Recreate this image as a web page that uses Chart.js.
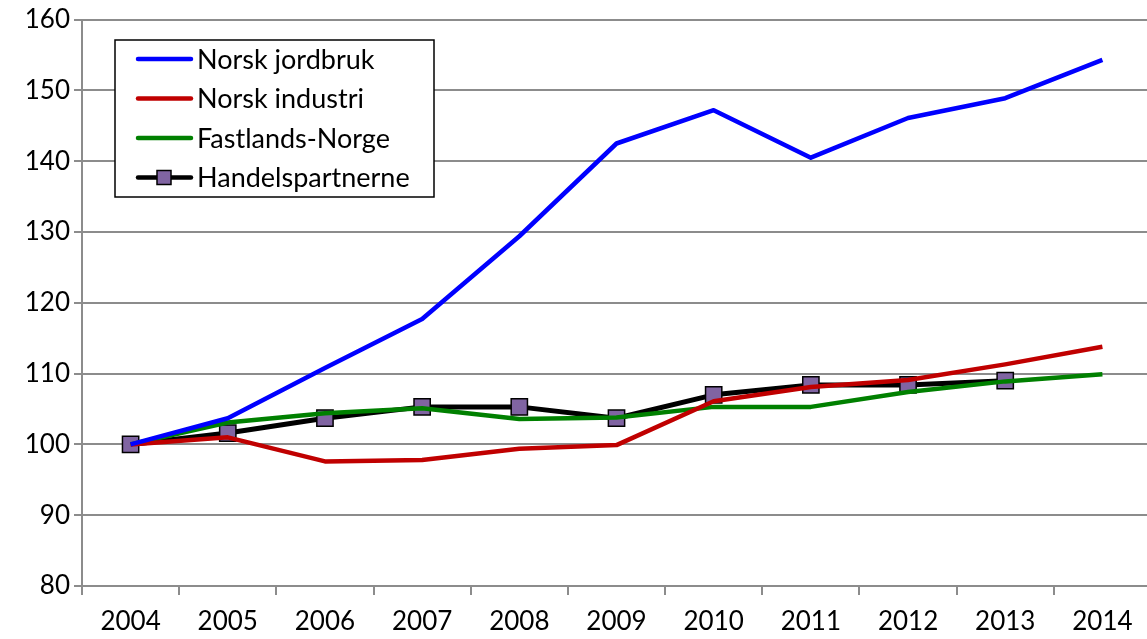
<!DOCTYPE html>
<html>
<head>
<meta charset="utf-8">
<script src="https://cdn.jsdelivr.net/npm/chart.js@4"></script>
<style>
  html, body { margin: 0; padding: 0; background: #fff; overflow: hidden; }
  /* plot runs a little past the right edge of the window, as in the original */
  #wrap { width: 1164px; height: 639px; }
</style>
</head>
<body>
<div id="wrap"><canvas id="chart"></canvas></div>
<script>
// Data (index, 2004 = 100)
const years = ['2004', '2005', '2006', '2007', '2008', '2009', '2010', '2011', '2012', '2013', '2014'];
const jordbruk = [100, 103.7, 110.8, 117.7, 129.4, 142.5, 147.2, 140.5, 146.1, 148.9, 154.3];
const industri = [100, 101.0, 97.6, 97.8, 99.4, 99.9, 106.1, 108.1, 109.1, 111.3, 113.8];
const fastland = [100, 103.1, 104.4, 105.1, 103.6, 103.8, 105.3, 105.3, 107.4, 108.9, 109.9];
const handel = [100, 101.6, 103.7, 105.3, 105.3, 103.7, 107.0, 108.4, 108.4, 109.0, null];
const yTicks = [80, 90, 100, 110, 120, 130, 140, 150, 160];

const FONT = 'Lato, "Open Sans", sans-serif';
const GRID = '#8c8c8c';

// legend drawn inside the plot, like the original
const boxLegend = {
    id: 'boxLegend',
    afterDraw(chart) {
        const ctx = chart.ctx;
        const x0 = 115, y0 = 40, w = 319, h = 157;
        ctx.save();
        ctx.fillStyle = '#fff';
        ctx.fillRect(x0, y0, w, h);
        ctx.strokeStyle = '#000';
        ctx.lineWidth = 1.5;
        ctx.strokeRect(x0, y0, w, h);
        ctx.font = '27px ' + FONT;
        ctx.textBaseline = 'middle';
        chart.data.datasets.forEach((ds, i) => {
            const y = 59 + i * 39.5;
            ctx.strokeStyle = ds.borderColor;
            ctx.lineWidth = 4.5;
            ctx.lineCap = 'round';
            ctx.beginPath();
            ctx.moveTo(138, y);
            ctx.lineTo(191, y);
            ctx.stroke();
            if (ds.pointRadius > 0) {
                ctx.fillStyle = ds.pointBackgroundColor;
                ctx.strokeStyle = '#000';
                ctx.lineWidth = 1.5;
                ctx.fillRect(157, y - 7, 14, 14);
                ctx.strokeRect(157, y - 7, 14, 14);
            }
            ctx.fillStyle = '#000';
            ctx.fillText(ds.label, 197, y + 1);
        });
        ctx.restore();
    }
};

const ctx = document.getElementById('chart').getContext('2d');
new Chart(ctx, {
    type: 'line',
    data: {
        labels: years,
        datasets: [
            { label: 'Norsk jordbruk', data: jordbruk, borderColor: '#0000ff', borderWidth: 4.5, pointRadius: 0 },
            { label: 'Norsk industri', data: industri, borderColor: '#c00000', borderWidth: 4.5, pointRadius: 0 },
            { label: 'Fastlands-Norge', data: fastland, borderColor: '#008000', borderWidth: 4.5, pointRadius: 0 },
            {
                label: 'Handelspartnerne', data: handel, borderColor: '#000000', borderWidth: 5,
                pointStyle: 'rect', pointRadius: 11.5, pointBackgroundColor: '#8064a2',
                pointBorderColor: '#000', pointBorderWidth: 1.5
            }
        ]
    },
    options: {
        responsive: true,
        maintainAspectRatio: false,
        animation: false,
        layout: { padding: { top: 18, right: 0, left: 0, bottom: 0 } },
        plugins: {
            legend: { display: false },
            tooltip: { enabled: false }
        },
        elements: { line: { tension: 0, borderJoinStyle: 'round' } },
        scales: {
            x: {
                offset: true,
                grid: { offset: true, drawOnChartArea: false, color: GRID, lineWidth: 2, tickLength: 9 },
                border: { color: GRID, width: 2 },
                ticks: { color: '#000', font: { family: FONT, size: 26 }, padding: 11, maxRotation: 0 },
                afterFit(scale) { scale.height = 53; }
            },
            y: {
                min: 80,
                max: 160,
                afterBuildTicks(scale) { scale.ticks = yTicks.map(v => ({ value: v })); },
                grid: { color: GRID, lineWidth: 2, tickLength: 8 },
                border: { color: GRID, width: 2 },
                ticks: { color: '#000', font: { family: FONT, size: 26 }, padding: 4 },
                afterFit(scale) { scale.width = 82; }
            }
        }
    },
    plugins: [boxLegend]
});
</script>
</body>
</html>
